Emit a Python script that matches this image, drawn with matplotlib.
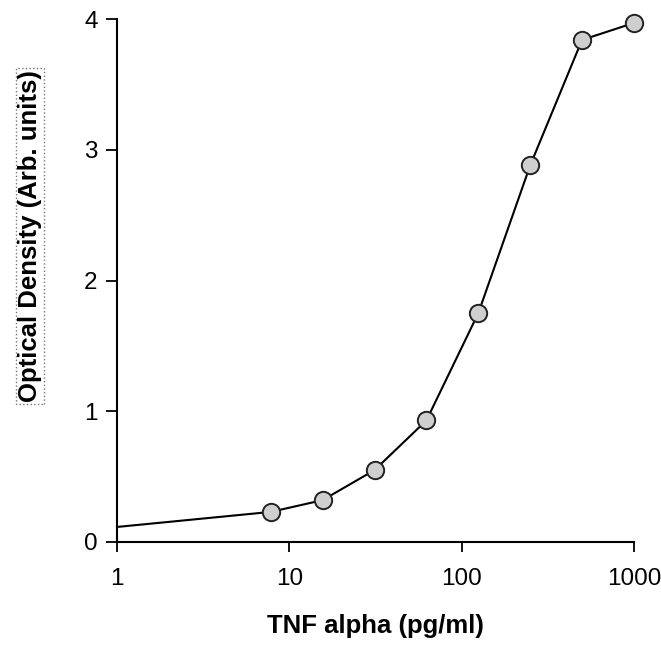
import matplotlib.pyplot as plt
from matplotlib.ticker import FixedLocator, NullLocator

plt.rcParams['font.family'] = ['Liberation Sans', 'DejaVu Sans']

# curve (fitted line starts at 1 pg/ml), markers only on measured standards
conc = [1, 7.8, 15.6, 31.25, 62.5, 125, 250, 500, 1000]
od = [0.115, 0.23, 0.32, 0.55, 0.93, 1.75, 2.88, 3.84, 3.97]
xticks = [1, 10, 100, 1000]
xticklabels = ['1', '10', '100', '1000']
yticks = [0, 1, 2, 3, 4]

fig = plt.figure(figsize=(6.61, 6.47), dpi=100)
ax = fig.add_axes([0.177, 0.1623, 0.782, 0.8083])

ax.plot(conc, od, color='black', lw=1.5, zorder=2, clip_on=False)
ax.plot(conc[1:], od[1:], ls='none', marker='o', ms=12.5, mfc='#cfcfcf',
        mec='#222222', mew=1.4, zorder=3, clip_on=False)

ax.set_xscale('log')
ax.set_xlim(1, 1000)
ax.set_ylim(0, 4)
ax.xaxis.set_major_locator(FixedLocator(xticks))
ax.xaxis.set_minor_locator(NullLocator())
ax.set_xticklabels(xticklabels)
ax.set_yticks(yticks)

for s in ['top', 'right']:
    ax.spines[s].set_visible(False)
for s in ['left', 'bottom']:
    ax.spines[s].set_linewidth(1.5)

ax.tick_params(axis='y', direction='out', length=8, width=1.3, pad=6,
               labelsize=17.5)
ax.tick_params(axis='x', direction='out', length=7, width=1.3, pad=12,
               labelsize=17.5)

ax.set_xlabel('TNF alpha (pg/ml)', fontsize=18.5, fontweight='bold')
ax.xaxis.set_label_coords(0.5, -0.137)
ax.set_ylabel('Optical Density (Arb. units)', fontsize=18.5, fontweight='bold',
              bbox=dict(facecolor='none', edgecolor='#777777', linestyle=':',
                        linewidth=1.0, pad=1.5))
ax.yaxis.set_label_coords(-0.145, 0.585)

plt.savefig('out.png', dpi=100)
plt.close()
